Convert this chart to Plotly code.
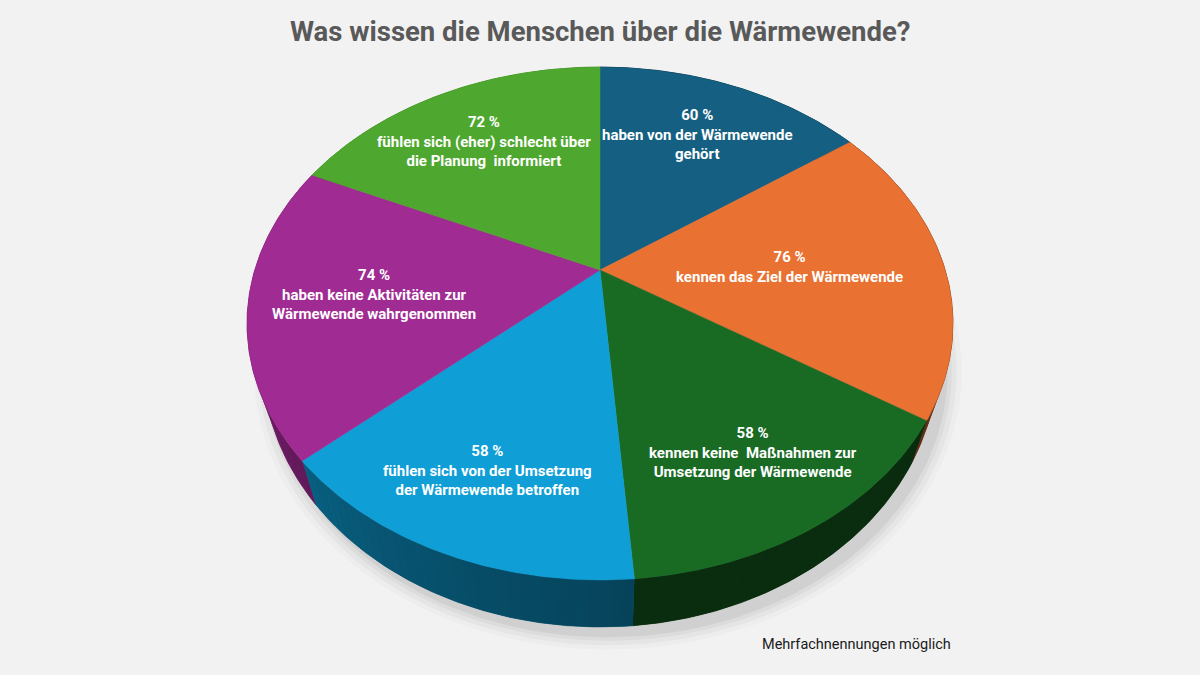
import numpy as np
import plotly.graph_objects as go

# ---------------- data ----------------
percent = [60, 76, 58, 58, 74, 72]
statements = [
    "haben von der Wärmewende<br>gehört",
    "kennen das Ziel der Wärmewende",
    "kennen keine  Maßnahmen zur<br>Umsetzung der Wärmewende",
    "fühlen sich von der Umsetzung<br>der Wärmewende betroffen",
    "haben keine Aktivitäten zur<br>Wärmewende wahrgenommen",
    "fühlen sich (eher) schlecht über<br>die Planung  informiert",
]
colors = ["#156082", "#E97132", "#196B24", "#0F9ED5", "#A02B93", "#4EA72E"]
title = "Was wissen die Menschen über die Wärmewende?"
footnote = "Mehrfachnennungen möglich"

# ---------------- geometry / style ----------------
CX, CY = 600.0, 270.0       # apex of the pie on screen
KX, KY = 345.2, 245.3       # projection scales
PERSP = 0.2086              # perspective strength
THICK = 37.2                # extrusion thickness
S_BOT = 0.955               # bottom rim horizontal shrink (perspective)
label_radius = [0.7, 0.55, 0.75, 0.75, 0.65, 0.7]


def project(theta_deg, f=1.0, dz=0.0, sx=1.0):
    th = np.radians(theta_deg)
    X = f * np.sin(th)
    Y = f * np.cos(th)
    den = 1 + PERSP * Y
    return CX + sx * KX * X / den, CY - KY * Y / den + dz / den


def shade(hex_color, k):
    h = hex_color.lstrip("#")
    r, g, b = (int(h[i:i + 2], 16) for i in (0, 2, 4))
    return "rgb(%d,%d,%d)" % (r * k, g * k, b * k)


def side_k(theta):
    return 0.42 + 0.38 * np.clip((theta - 170) / 100, 0, 1) ** 1.3


vals = np.array(percent, dtype=float)
bounds = np.concatenate([[0], np.cumsum(vals) / vals.sum() * 360])

fig = go.Figure()

# soft shadow
tt = np.linspace(0, 360, 361)
bx, by = project(tt, 1.0, THICK, S_BOT)
mx, my = bx.mean(), by.mean()
for e, op in [(0.05, 0.02), (0.035, 0.03), (0.02, 0.04), (0.008, 0.05)]:
    sx_ = mx + (bx - mx) * (1 + e) + 8
    sy_ = my + (by - my) * (1 + e) + 8
    fig.add_trace(go.Scatter(x=sx_, y=sy_, mode="lines", fill="toself",
                             fillcolor="rgba(0,0,0,%g)" % op,
                             line=dict(width=0), hoverinfo="skip", showlegend=False))

# sides
for i in range(len(vals)):
    a0, a1 = bounds[i], bounds[i + 1]
    # base polygon for the full side of the slice
    t = np.linspace(a0, a1, 120)
    tx, ty = project(t, 1.0, 0)
    ux, uy = project(t[::-1], 1.0, THICK, S_BOT)
    col = shade(colors[i], side_k((a0 + a1) / 2))
    fig.add_trace(go.Scatter(x=np.concatenate([tx, ux]), y=np.concatenate([ty, uy]),
                             mode="lines", fill="toself", fillcolor=col,
                             line=dict(width=0.6, color=col),
                             hoverinfo="skip", showlegend=False))
    # gradient strips
    nseg = max(2, int((a1 - a0) / 1.5))
    edges = np.linspace(a0, a1, nseg + 1)
    for s in range(nseg):
        t = np.linspace(edges[s], edges[s + 1], 3)
        tx, ty = project(t, 1.0, 0)
        ux, uy = project(t[::-1], 1.0, THICK, S_BOT)
        col = shade(colors[i], side_k((edges[s] + edges[s + 1]) / 2))
        fig.add_trace(go.Scatter(x=np.concatenate([tx, ux]), y=np.concatenate([ty, uy]),
                                 mode="lines", fill="toself", fillcolor=col,
                                 line=dict(width=0),
                                 hoverinfo="skip", showlegend=False))

# top faces
for i in range(len(vals)):
    t = np.linspace(bounds[i], bounds[i + 1], 120)
    ax, ay = project(t, 1.0, 0)
    fig.add_trace(go.Scatter(x=np.concatenate([[CX], ax, [CX]]),
                             y=np.concatenate([[CY], ay, [CY]]),
                             mode="lines", fill="toself", fillcolor=colors[i],
                             line=dict(width=0.5, color=colors[i]),
                             hoverinfo="skip", showlegend=False))

# labels
annotations = []
for i in range(len(vals)):
    mid = (bounds[i] + bounds[i + 1]) / 2
    lx, ly = project(mid, label_radius[i], 0)
    annotations.append(dict(
        x=float(lx), y=float(ly), xref="x", yref="y", showarrow=False,
        text="<b>%d %%<br>%s</b>" % (percent[i], statements[i]),
        font=dict(family="Roboto", size=15, color="white"),
        align="center", xanchor="center", yanchor="middle"))

annotations.append(dict(x=600, y=31, xref="x", yref="y", showarrow=False,
                        text="<b>%s</b>" % title,
                        font=dict(family="Roboto", size=27.5, color="#595959"),
                        xanchor="center", yanchor="middle"))
annotations.append(dict(x=760, y=644, xref="x", yref="y", showarrow=False,
                        text=footnote,
                        font=dict(family="Roboto", size=14.5, color="#1a1a1a"),
                        xanchor="left", yanchor="middle"))

fig.update_layout(
    width=1200, height=675, autosize=False,
    margin=dict(l=0, r=0, t=0, b=0),
    paper_bgcolor="#f2f2f2", plot_bgcolor="#f2f2f2",
    xaxis=dict(range=[0, 1200], visible=False, fixedrange=True),
    yaxis=dict(range=[675, 0], visible=False, fixedrange=True),
    annotations=annotations,
    showlegend=False,
)

fig.write_html("out.html")
